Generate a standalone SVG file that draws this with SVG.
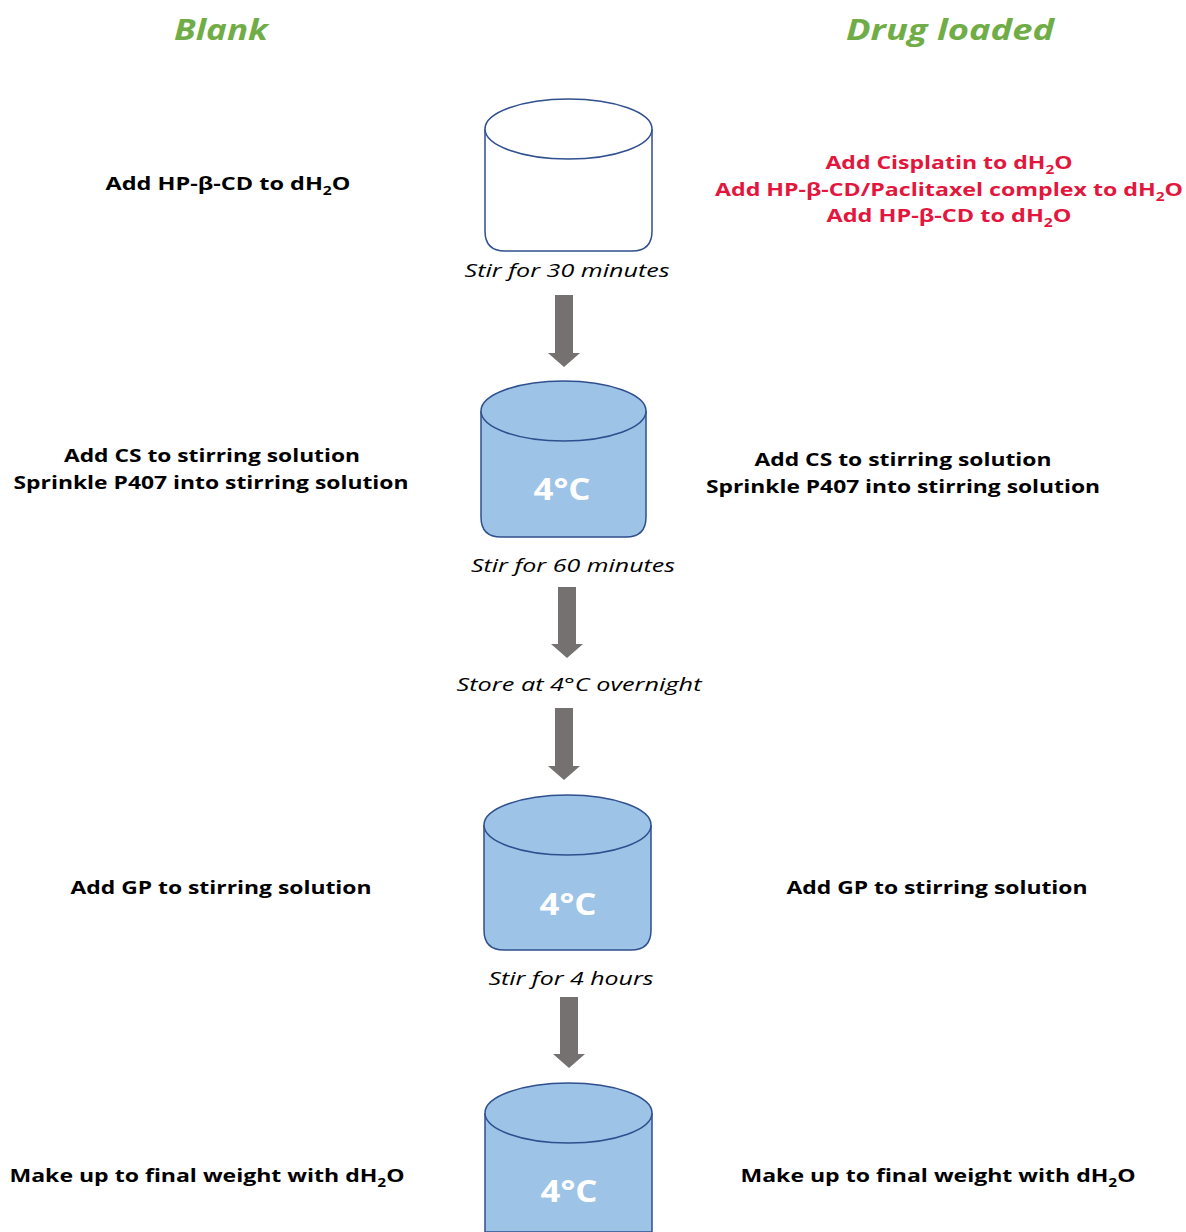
<svg xmlns="http://www.w3.org/2000/svg" width="1186" height="1232" viewBox="0 0 1186 1232">
<style>
.t{font-family:"Open Sans","DejaVu Sans",sans-serif;font-weight:bold;font-size:18px;fill:#000;text-anchor:middle}
.r{fill:#E3173D}
.i{font-family:"Open Sans","DejaVu Sans",sans-serif;font-style:italic;font-size:19px;fill:#000;text-anchor:middle}
.h{font-family:"Open Sans","DejaVu Sans",sans-serif;font-style:italic;font-weight:bold;font-size:28px;fill:#70AD47;text-anchor:middle}
.c{font-family:"Open Sans","DejaVu Sans",sans-serif;font-weight:bold;font-size:30px;fill:#fff;text-anchor:middle}
.cyl{fill:#9DC3E6;stroke:#2F4F8F;stroke-width:1.5}
.cylw{fill:#fff;stroke:#2F4F8F;stroke-width:1.5}
.arr{fill:#767171}
.s{font-size:12px}
</style>
<rect width="1186" height="1232" fill="#fff"/>
<g id="headers">
<text class="h" x="221" y="40" textLength="94" lengthAdjust="spacingAndGlyphs">Blank</text>
<text class="h" x="950" y="40" textLength="208" lengthAdjust="spacingAndGlyphs">Drug loaded</text>
</g>
<g id="cyl1">
<path class="cylw" d="M485,129 L485,231 Q485,251 505,251 L632,251 Q652,251 652,231 L652,129"/>
<ellipse class="cylw" cx="568.5" cy="129" rx="83.5" ry="30"/>
</g>
<g id="cyl2">
<path class="cyl" d="M481,411 L481,517 Q481,537 501,537 L626,537 Q646,537 646,517 L646,411"/>
<ellipse class="cyl" cx="563.5" cy="411" rx="82.5" ry="30"/>
<text class="c" x="562" y="500" textLength="57" lengthAdjust="spacingAndGlyphs">4°C</text>
</g>
<g id="cyl3">
<path class="cyl" d="M484,825 L484,930 Q484,950 504,950 L631,950 Q651,950 651,930 L651,825"/>
<ellipse class="cyl" cx="567.5" cy="825" rx="83.5" ry="30"/>
<text class="c" x="568" y="915" textLength="57" lengthAdjust="spacingAndGlyphs">4°C</text>
</g>
<g id="cyl4">
<path class="cyl" d="M485,1113 L485,1232 L652,1232 L652,1113"/>
<ellipse class="cyl" cx="568.5" cy="1113" rx="83.5" ry="30"/>
<text class="c" x="569" y="1202" textLength="57" lengthAdjust="spacingAndGlyphs">4°C</text>
</g>
<g id="connectors">
<polygon class="arr" points="555,295 573,295 573,353 580,353 564,367 548,353 555,353"/>
<polygon class="arr" points="558,587 576,587 576,644 583,644 567,658 551,644 558,644"/>
<polygon class="arr" points="555,708 573,708 573,766 580,766 564,780 548,766 555,766"/>
<polygon class="arr" points="560,997 578,997 578,1054 585,1054 569,1068 553,1054 560,1054"/>
</g>
<g id="texts">
<text class="t" x="228" y="190" textLength="245" lengthAdjust="spacingAndGlyphs">Add HP-β-CD to dH<tspan class="s" dy="5">2</tspan><tspan dy="-5">O</tspan></text>
<text class="t r" x="949" y="169" textLength="247" lengthAdjust="spacingAndGlyphs">Add Cisplatin to dH<tspan class="s" dy="5">2</tspan><tspan dy="-5">O</tspan></text>
<text class="t r" x="949" y="196" textLength="468" lengthAdjust="spacingAndGlyphs">Add HP-β-CD/Paclitaxel complex to dH<tspan class="s" dy="5">2</tspan><tspan dy="-5">O</tspan></text>
<text class="t r" x="949" y="222" textLength="245" lengthAdjust="spacingAndGlyphs">Add HP-β-CD to dH<tspan class="s" dy="5">2</tspan><tspan dy="-5">O</tspan></text>
<text class="i" x="567" y="277" textLength="205" lengthAdjust="spacingAndGlyphs">Stir for 30 minutes</text>
<text class="t" x="212" y="462" textLength="296" lengthAdjust="spacingAndGlyphs">Add CS to stirring solution</text>
<text class="t" x="211" y="489" textLength="395" lengthAdjust="spacingAndGlyphs">Sprinkle P407 into stirring solution</text>
<text class="t" x="903" y="466" textLength="297" lengthAdjust="spacingAndGlyphs">Add CS to stirring solution</text>
<text class="t" x="903" y="493" textLength="394" lengthAdjust="spacingAndGlyphs">Sprinkle P407 into stirring solution</text>
<text class="i" x="573" y="572" textLength="204" lengthAdjust="spacingAndGlyphs">Stir for 60 minutes</text>
<text class="i" x="579" y="691" textLength="245" lengthAdjust="spacingAndGlyphs">Store at 4°C overnight</text>
<text class="t" x="221" y="894" textLength="301" lengthAdjust="spacingAndGlyphs">Add GP to stirring solution</text>
<text class="t" x="937" y="894" textLength="301" lengthAdjust="spacingAndGlyphs">Add GP to stirring solution</text>
<text class="i" x="571" y="985" textLength="165" lengthAdjust="spacingAndGlyphs">Stir for 4 hours</text>
<text class="t" x="207" y="1182" textLength="395" lengthAdjust="spacingAndGlyphs">Make up to final weight with dH<tspan class="s" dy="5">2</tspan><tspan dy="-5">O</tspan></text>
<text class="t" x="938" y="1182" textLength="395" lengthAdjust="spacingAndGlyphs">Make up to final weight with dH<tspan class="s" dy="5">2</tspan><tspan dy="-5">O</tspan></text>
</g>
</svg>
